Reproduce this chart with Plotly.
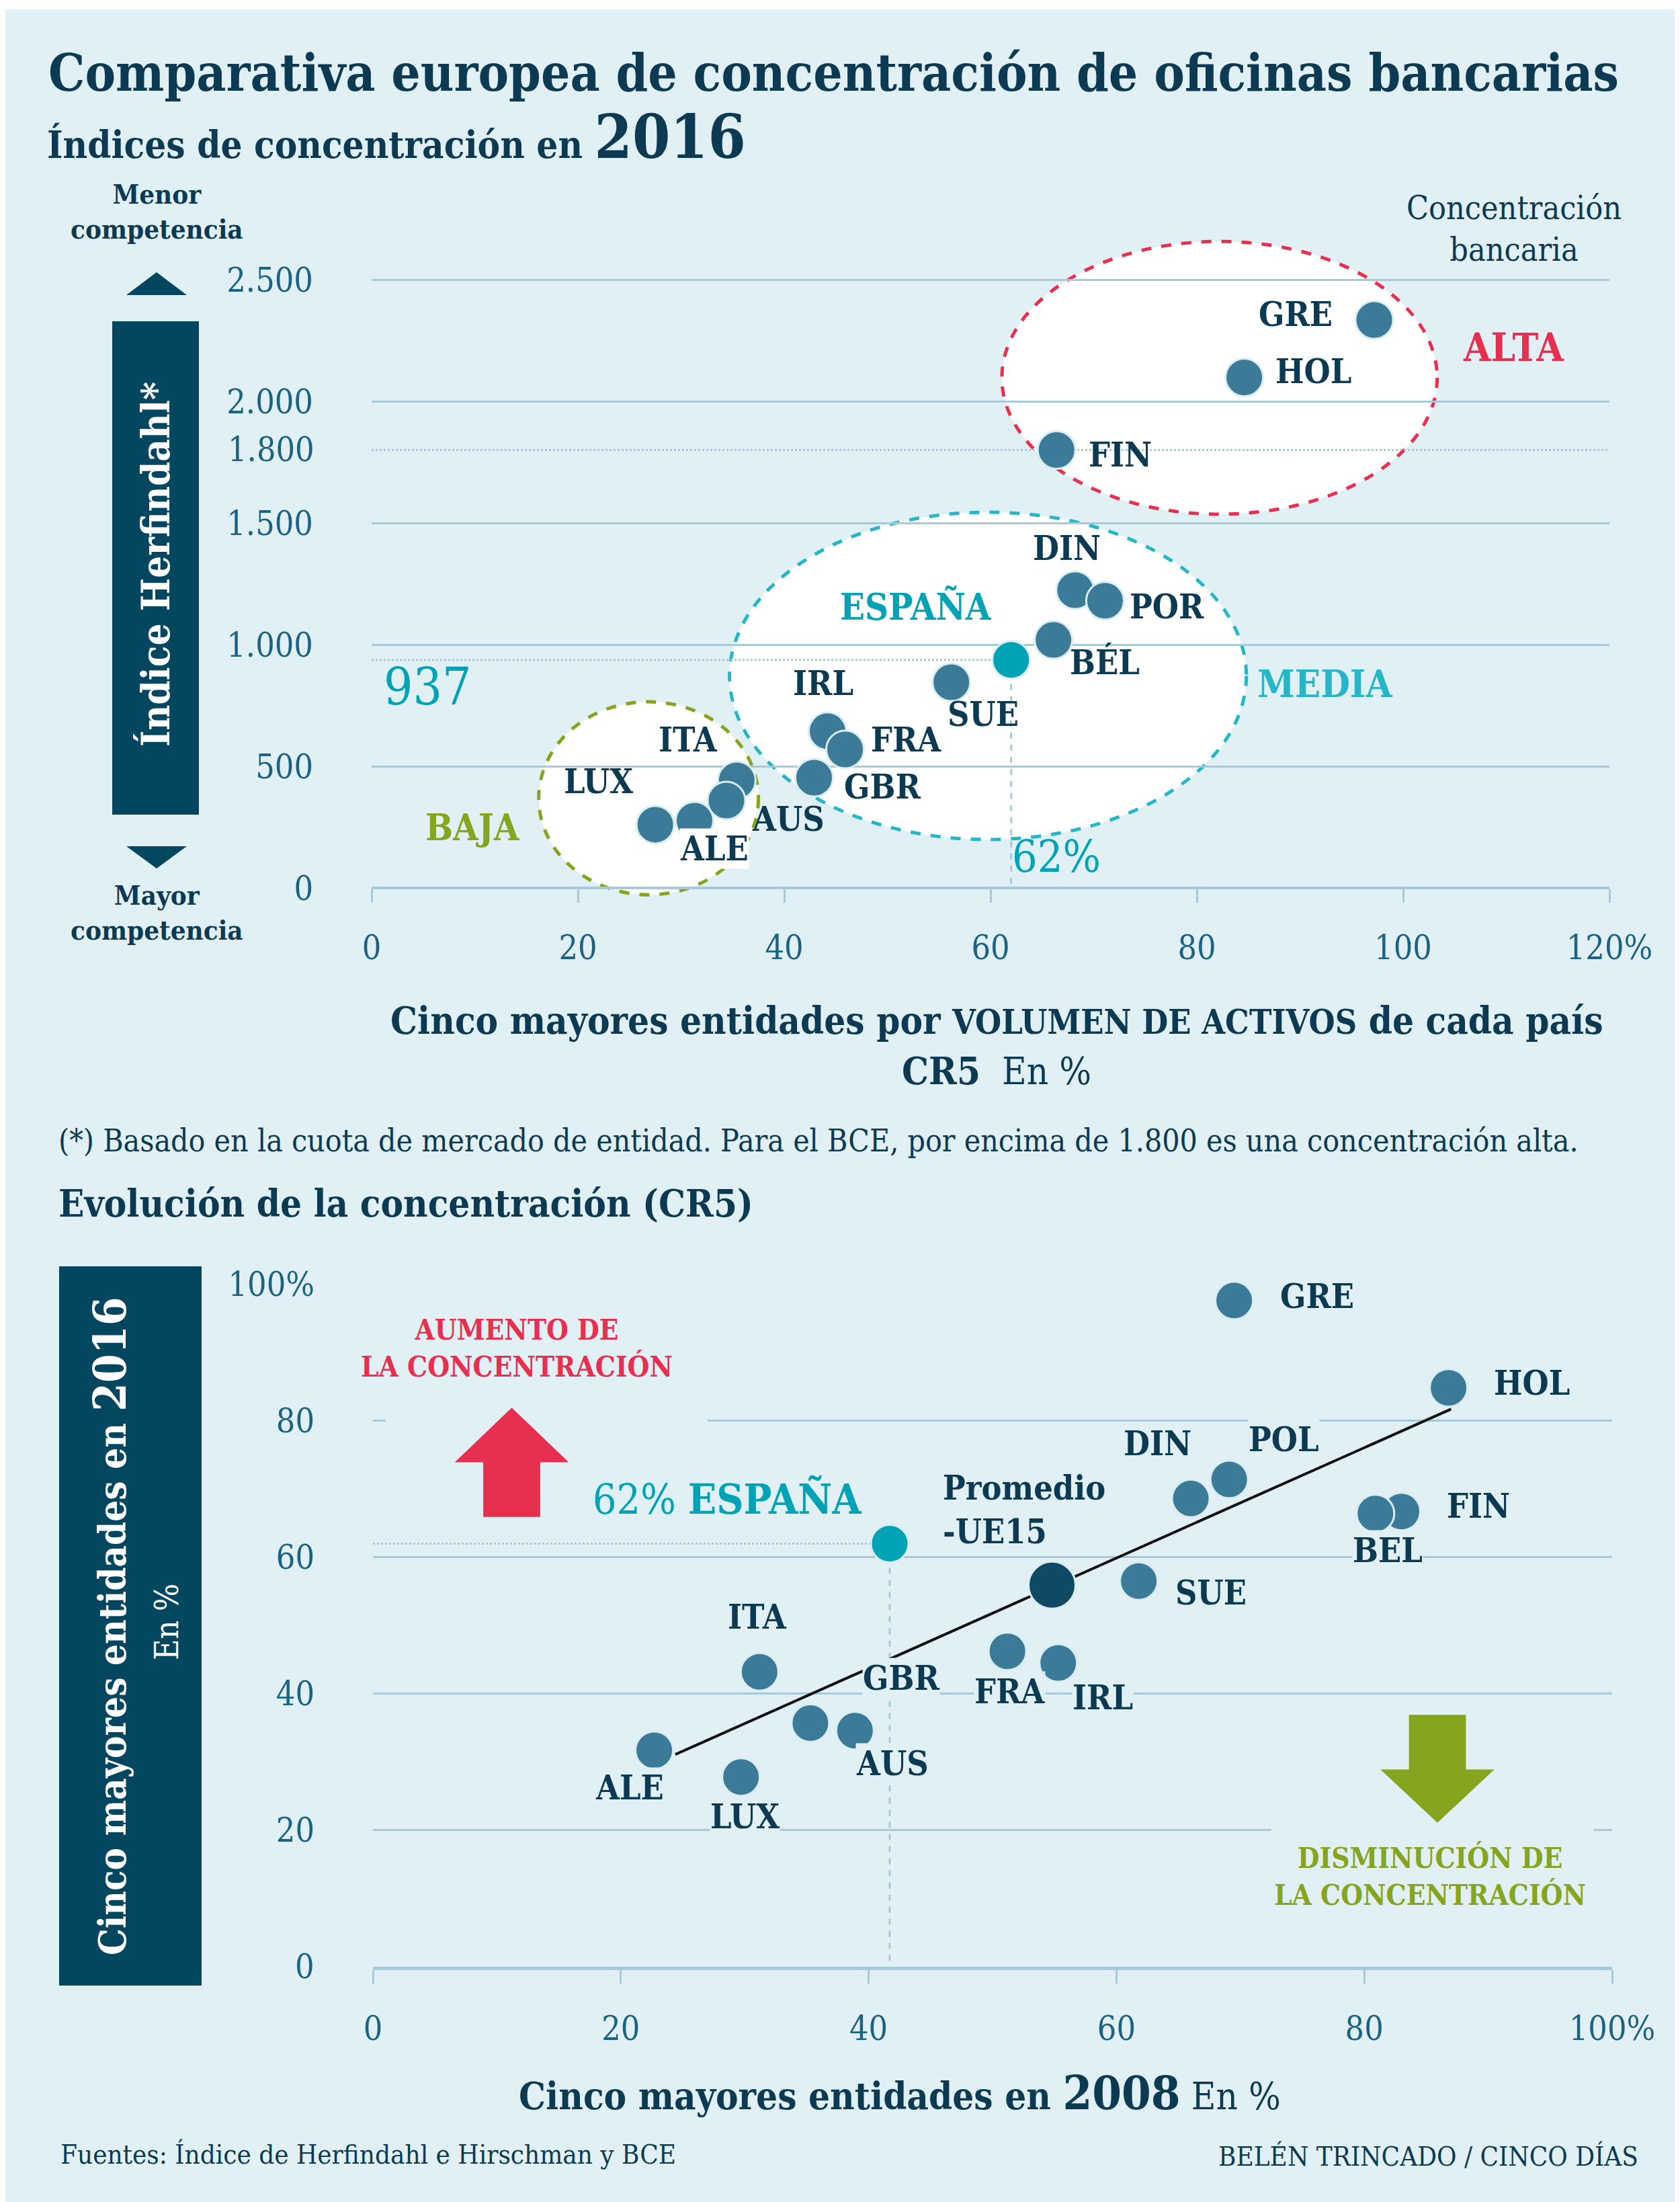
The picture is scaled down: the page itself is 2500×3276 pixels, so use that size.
import plotly.graph_objects as go

# --- Índice Herfindahl frente a CR5 (2016)
HHI_PAISES = ["GRE", "HOL", "FIN", "DIN", "POR", "BÉL", "SUE", "IRL", "FRA", "GBR", "ITA", "AUS", "LUX", "ALE"]
HHI_CR5 = [97.2, 84.6, 66.4, 68.2, 71.1, 66.1, 56.2, 44.2, 45.9, 42.9, 35.4, 34.4, 27.5, 31.3]
HHI_VALOR = [2334, 2098, 1800, 1224, 1180, 1019, 845, 644, 569, 453, 442, 359, 260, 276]
ESP_CR5 = 62
ESP_HHI = 937
HHI_UMBRAL = 1800
HHI_TICKS = [0, 500, 1000, 1500, 2000, 2500]
HHI_TICKTEXT = ["0", "500", "1.000", "1.500", "2.000", "2.500"]
CR5_TICKS = [0, 20, 40, 60, 80, 100, 120]
CR5_TICKTEXT = ["0", "20", "40", "60", "80", "100", "120%"]

# --- Evolución CR5 2008 -> 2016
EVO_PAISES = ["GRE", "HOL", "DIN", "POL", "FIN", "BEL", "SUE", "FRA", "IRL", "ITA", "GBR", "AUS", "ALE", "LUX"]
EVO_2008 = [69.5, 86.8, 66.0, 69.1, 83.0, 80.9, 61.8, 51.2, 55.3, 31.2, 35.3, 38.9, 22.7, 29.7]
EVO_2016 = [97.6, 84.8, 68.6, 71.4, 66.7, 66.4, 56.5, 46.2, 44.5, 43.2, 35.7, 34.6, 31.7, 27.8]
ESP_2008 = 41.7
ESP_2016 = 62
UE15_2008 = 54.8
UE15_2016 = 55.9
TREND_X = [24.4, 87.0]
TREND_Y = [31.1, 81.7]
EVO_TICKS = [0, 20, 40, 60, 80, 100]
EVO_YTEXT = ["0", "20", "40", "60", "80", "100%"]
EVO_XTEXT = ["0", "20", "40", "60", "80", "100%"]

# colores
BG = "#e1f0f4"
GRID = "#a8c9d7"
NAVY = "#0b3a52"
BOX = "#03465f"
TICK = "#1c6282"
DOT = "#3c7b98"
ESP = "#00a3b6"
RED = "#e72f4f"
GREEN = "#84a51d"
CYAN = "#27b6c7"
UE15 = "#0e4a64"
FONT = "DejaVu Serif Condensed, DejaVu Serif, serif"

W, H = 2500, 3276


def px(x):
    return x / W


def py(y):
    return 1 - y / H


fig = go.Figure()

# ---------------- gráfico superior
fig.add_trace(go.Scatter(
    x=[0, ESP_CR5], y=[ESP_HHI, ESP_HHI], mode="lines",
    line=dict(color=GRID, width=3, dash="dot"), xaxis="x", yaxis="y",
    hoverinfo="skip", showlegend=False))
fig.add_trace(go.Scatter(
    x=[ESP_CR5, ESP_CR5], y=[ESP_HHI, 0], mode="lines",
    line=dict(color=GRID, width=3, dash="dash"), xaxis="x", yaxis="y",
    hoverinfo="skip", showlegend=False))
fig.add_trace(go.Scatter(
    x=HHI_CR5, y=HHI_VALOR, mode="markers", text=HHI_PAISES,
    marker=dict(size=56, color=DOT, line=dict(color="#d9edf3", width=3)),
    xaxis="x", yaxis="y", showlegend=False, cliponaxis=False))
fig.add_trace(go.Scatter(
    x=[ESP_CR5], y=[ESP_HHI], mode="markers",
    marker=dict(size=56, color=ESP, line=dict(color="#d9edf3", width=3)),
    xaxis="x", yaxis="y", showlegend=False))

# ---------------- gráfico inferior
fig.add_trace(go.Scatter(
    x=[0, ESP_2008], y=[ESP_2016, ESP_2016], mode="lines",
    line=dict(color=GRID, width=3, dash="dot"), xaxis="x2", yaxis="y2",
    hoverinfo="skip", showlegend=False))
fig.add_trace(go.Scatter(
    x=[ESP_2008, ESP_2008], y=[ESP_2016, 0], mode="lines",
    line=dict(color=GRID, width=3, dash="dash"), xaxis="x2", yaxis="y2",
    hoverinfo="skip", showlegend=False))
fig.add_trace(go.Scatter(
    x=TREND_X, y=TREND_Y, mode="lines", line=dict(color="#111111", width=4),
    xaxis="x2", yaxis="y2", showlegend=False))
fig.add_trace(go.Scatter(
    x=EVO_2008, y=EVO_2016, mode="markers", text=EVO_PAISES,
    marker=dict(size=56, color=DOT, line=dict(color="#d9edf3", width=3)),
    xaxis="x2", yaxis="y2", showlegend=False, cliponaxis=False))
fig.add_trace(go.Scatter(
    x=[ESP_2008], y=[ESP_2016], mode="markers",
    marker=dict(size=56, color=ESP, line=dict(color="#d9edf3", width=3)),
    xaxis="x2", yaxis="y2", showlegend=False))
fig.add_trace(go.Scatter(
    x=[UE15_2008], y=[UE15_2016], mode="markers",
    marker=dict(size=70, color=UE15, line=dict(color="#d9edf3", width=3)),
    xaxis="x2", yaxis="y2", showlegend=False))

shapes = []
# elipses de concentración (alta, media, baja)
for x0, x1, y0, y1, col in [(61.1, 103.3, 1536, 2657, RED),
                            (34.7, 84.8, 199, 1544, CYAN),
                            (16.2, 37.5, -28, 765, GREEN)]:
    shapes.append(dict(type="circle", xref="x", yref="y", x0=x0, x1=x1, y0=y0, y1=y1,
                       fillcolor="white", line=dict(color=col, width=5, dash="dash"),
                       layer="below"))
shapes.append(dict(type="line", xref="x", yref="y", x0=0, x1=120, y0=HHI_UMBRAL, y1=HHI_UMBRAL,
                   line=dict(color=GRID, width=3, dash="dot"), layer="between"))

# caja vertical + flechas (superior)
shapes.append(dict(type="rect", xref="paper", yref="paper", x0=px(159), x1=px(288),
                   y0=py(1204), y1=py(470), fillcolor=BOX, line=dict(width=0)))
shapes.append(dict(type="path", xref="paper", yref="paper",
                   path=f"M {px(180)} {py(431)} L {px(270)} {py(431)} L {px(225)} {py(397)} Z",
                   fillcolor=BOX, line=dict(width=0)))
shapes.append(dict(type="path", xref="paper", yref="paper",
                   path=f"M {px(180)} {py(1251)} L {px(270)} {py(1251)} L {px(225)} {py(1284)} Z",
                   fillcolor=BOX, line=dict(width=0)))
# caja vertical (inferior)
shapes.append(dict(type="rect", xref="paper", yref="paper", x0=px(80), x1=px(292),
                   y0=py(2946), y1=py(1876), fillcolor=BOX, line=dict(width=0)))

# huecos en la rejilla tras las flechas
shapes.append(dict(type="rect", xref="x2", yref="y2", x0=1.0, x1=27.0, y0=78, y1=82,
                   fillcolor=BG, line=dict(width=0), layer="between"))
shapes.append(dict(type="rect", xref="x2", yref="y2", x0=72.5, x1=98.5, y0=18, y1=22,
                   fillcolor=BG, line=dict(width=0), layer="between"))


def arrow(cx, base, neck, tip, shaft=2.3, head=4.6):
    return (f"M {cx - shaft} {base} L {cx - shaft} {neck} L {cx - head} {neck} "
            f"L {cx} {tip} L {cx + head} {neck} L {cx + shaft} {neck} L {cx + shaft} {base} Z")


shapes.append(dict(type="path", xref="x2", yref="y2", path=arrow(11.2, 65.9, 73.9, 81.9),
                   fillcolor=RED, line=dict(width=0)))
shapes.append(dict(type="path", xref="x2", yref="y2", path=arrow(85.9, 36.9, 28.9, 21.1),
                   fillcolor=GREEN, line=dict(width=0)))

# franja blanca superior
shapes.append(dict(type="rect", xref="paper", yref="paper", x0=0, x1=1, y0=py(6), y1=1,
                   fillcolor="white", line=dict(width=0)))

ann = []


def lab(x, y, text, size=48, color=NAVY, xanchor="center", xref="x", yref="y", bg=None, **kw):
    d = dict(x=x, y=y, xref=xref, yref=yref, text=text, showarrow=False,
             xanchor=xanchor, yanchor="middle", font=dict(family=FONT, size=size, color=color),
             yshift=8 if yref == "paper" else 5)
    if bg:
        d["bgcolor"] = bg
        d["borderpad"] = 0
    d.update(kw)
    ann.append(d)


# etiquetas superiores
top_labels = [(89.6, 2345, "GRE"), (91.3, 2110, "HOL"), (72.6, 1766, "FIN"), (67.4, 1382, "DIN"),
              (77.1, 1141, "POR"), (71.1, 912, "BÉL"), (59.3, 700, "SUE"), (43.8, 826, "IRL"),
              (51.8, 596, "FRA"), (49.5, 401, "GBR"), (30.7, 596, "ITA"), (22.0, 424, "LUX"),
              (40.4, 270, "AUS")]
for x, y, t in top_labels:
    lab(x, y, f"<b>{t}</b>", 50)
lab(33.2, 149, "<b>ALE</b>", 50, bg="white")
lab(52.8, 1141, "<b>ESPAÑA</b>", 54, ESP)
lab(5.4, 814, "937", 76, ESP)
lab(66.4, 115, "62%", 66, ESP)
lab(110.7, 2208, "<b>ALTA</b>", 58, RED)
lab(92.4, 826, "<b>MEDIA</b>", 56, CYAN)
lab(9.8, 235, "<b>BAJA</b>", 54, GREEN)
lab(px(462), HHI_UMBRAL, "1.800", 50, TICK, xanchor="right", xref="paper", yshift=0)
lab(px(2245), py(340), "Concentración<br>bancaria", 48, NAVY, xref="paper", yref="paper")

# etiquetas inferiores
bot_labels = [(76.2, 97.7, "GRE"), (93.5, 85.0, "HOL"), (63.3, 76.2, "DIN"), (73.5, 76.8, "POL"),
              (89.2, 67.0, "FIN"), (81.9, 60.5, "BEL"), (67.6, 54.3, "SUE"), (51.4, 39.8, "FRA"),
              (58.9, 38.9, "IRL"), (31.0, 50.8, "ITA"), (42.6, 41.8, "GBR"), (41.9, 29.3, "AUS"),
              (20.7, 25.8, "ALE"), (30.0, 21.5, "LUX")]
for x, y, t in bot_labels:
    lab(x, y, f"<b>{t}</b>", 50, xref="x2", yref="y2", bg=BG)
lab(45.9, 66.5, "<b>Promedio<br>-UE15</b>", 50, xanchor="left", xref="x2", yref="y2", align="left")
lab(28.6, 68.0, "62% <b>ESPAÑA</b>", 62, ESP, xref="x2", yref="y2")
lab(11.6, 90.1, "<b>AUMENTO DE<br>LA CONCENTRACIÓN</b>", 42, RED, xref="x2", yref="y2")
lab(85.3, 12.8, "<b>DISMINUCIÓN DE<br>LA CONCENTRACIÓN</b>", 42, GREEN, xref="x2", yref="y2")

# textos generales
lab(px(62), py(109), "<b>Comparativa europea de concentración de oficinas bancarias</b>", 76,
    NAVY, xanchor="left", xref="paper", yref="paper")
lab(px(60), py(203), "<b>Índices de concentración en <span style='font-size:90px'>2016</span></b>", 56,
    NAVY, xanchor="left", xref="paper", yref="paper")
lab(px(225), py(314), "<b>Menor<br>competencia</b>", 40, NAVY, xref="paper", yref="paper")
lab(px(225), py(1357), "<b>Mayor<br>competencia</b>", 40, NAVY, xref="paper", yref="paper")
lab(px(224), py(832), "<b>Índice Herfindahl*</b>", 58, "white", xref="paper", yref="paper",
    textangle=-90, yshift=0)
lab(px(1475), py(1518),
    "<b>Cinco mayores entidades por <span style='font-size:50px'>VOLUMEN DE ACTIVOS</span> de cada país</b>",
    56, NAVY, xref="paper", yref="paper")
lab(px(1475), py(1593), "<b>CR5</b>  En %", 56, NAVY, xref="paper", yref="paper")
lab(px(77), py(1697),
    "(*) Basado en la cuota de mercado de entidad. Para el BCE, por encima de 1.800 es una concentración alta.",
    46, NAVY, xanchor="left", xref="paper", yref="paper")
lab(px(77), py(1790), "<b>Evolución de la concentración (CR5)</b>", 56, NAVY, xanchor="left",
    xref="paper", yref="paper")
lab(px(155), py(2411), "<b>Cinco mayores entidades en <span style='font-size:68px'>2016</span></b>", 56,
    "white", xref="paper", yref="paper", textangle=-90, yshift=0)
lab(px(240), py(2405), "En %", 48, "white", xref="paper", yref="paper", textangle=-90, yshift=0)
lab(px(1331), py(3113), "<b>Cinco mayores entidades en <span style='font-size:70px'>2008</span></b> En %",
    56, NAVY, xref="paper", yref="paper")
lab(px(80), py(3205), "Fuentes: Índice de Herfindahl e Hirschman y BCE", 40, NAVY, xanchor="left",
    xref="paper", yref="paper")
lab(px(2432), py(3208), "BELÉN TRINCADO / CINCO DÍAS", 40, NAVY, xanchor="right",
    xref="paper", yref="paper")
# etiqueta "0" del eje inferior izquierdo
lab(px(462), 0, "0", 50, TICK, xanchor="right", xref="paper", yref="y2", yshift=0)

tickfont = dict(family=FONT, size=50, color=TICK)

fig.update_layout(
    width=W, height=H, margin=dict(l=0, r=0, t=0, b=0),
    paper_bgcolor=BG, plot_bgcolor=BG, showlegend=False,
    shapes=shapes, annotations=ann,
    xaxis=dict(domain=[px(545), px(2387)], range=[0, 120], anchor="free", position=py(1313),
               tickvals=CR5_TICKS, ticktext=CR5_TICKTEXT, showgrid=False, zeroline=False,
               showline=True, linecolor=GRID, linewidth=4, ticks="outside", ticklen=20,
               tickwidth=3, tickcolor=GRID, tickfont=tickfont, ticklabelstandoff=24,
               automargin=False),
    yaxis=dict(domain=[py(1367.3), py(317.5)], range=[-150, 2750], anchor="x",
               tickvals=HHI_TICKS, ticktext=HHI_TICKTEXT, showgrid=True, gridcolor=GRID,
               gridwidth=3, zeroline=False, showline=False, ticks="outside", ticklen=76,
               tickcolor="rgba(0,0,0,0)", tickfont=tickfont, automargin=False),
    xaxis2=dict(domain=[px(547), px(2391)], range=[0, 100], anchor="y2",
                tickvals=EVO_TICKS, ticktext=EVO_XTEXT, showgrid=False, zeroline=False,
                showline=True, linecolor=GRID, linewidth=5, ticks="outside", ticklen=20,
                tickwidth=3, tickcolor=GRID, tickfont=tickfont, ticklabelstandoff=24,
                automargin=False),
    yaxis2=dict(domain=[py(2918), py(1902.5)], range=[0, 100], anchor="x2",
                tickvals=EVO_TICKS[1:], ticktext=EVO_YTEXT[1:], showgrid=True, gridcolor=GRID,
                gridwidth=3, zeroline=False, showline=False, ticks="outside", ticklen=76,
                tickcolor="rgba(0,0,0,0)", tickfont=tickfont, automargin=False),
)

fig.write_html("out.html")
